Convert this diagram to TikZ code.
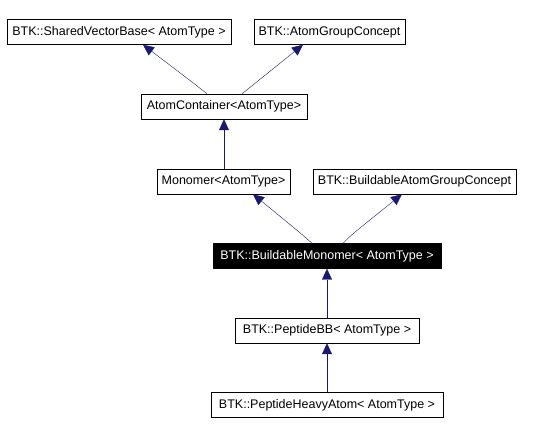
\documentclass[tikz,border=0pt]{standalone}
\usepackage{fontspec}
\setmainfont{Liberation Sans}
\usetikzlibrary{arrows.meta}
\definecolor{edgeblue}{RGB}{25,25,112}
\tikzset{
	cls/.style={draw=black,fill=white,inner sep=0pt,minimum height=25pt,font=\fontsize{12.5}{14}\selectfont},
	current/.style={cls,fill=black,text=white},
	inherit/.style={edgeblue,-{Triangle[length=11pt,width=10pt]}}
}
\begin{document}
\begin{tikzpicture}[x=1pt,y=-1pt]
		\useasboundingbox (0,0) rectangle (536,435);
		
		\node[cls,minimum width=224pt] (svb) at (119,32) {BTK::SharedVectorBase< AtomType >};
		\node[cls,minimum width=151pt] (agc) at (329.5,32) {BTK::AtomGroupConcept};
		\node[cls,minimum width=166pt] (ac) at (224,106.5) {AtomContainer<AtomType>};
		\node[cls,minimum width=133pt] (mon) at (223.5,181.5) {Monomer<AtomType>};
		\node[cls,minimum width=203pt] (bagc) at (414.5,181.5) {BTK::BuildableAtomGroupConcept};
		\node[current,minimum width=228pt] (bmon) at (327,256) {BTK::BuildableMonomer< AtomType >};
		\node[cls,minimum width=184pt] (pbb) at (327,330.5) {BTK::PeptideBB< AtomType >};
		\node[cls,minimum width=232pt] (pha) at (327,405) {BTK::PeptideHeavyAtom< AtomType >};
		
		% inheritance, tips at the base class
		\draw[inherit] ([xshift=-17pt]ac.north) .. controls ([xshift=-27pt,yshift=8pt]ac.north) .. ([xshift=24pt]svb.south);
		\draw[inherit] ([xshift=18pt]ac.north) .. controls ([xshift=28pt,yshift=8pt]ac.north) .. ([xshift=-26.5pt]agc.south);
		\draw[inherit] (ac.south |- mon.north) -- (ac.south);
		\draw[inherit] ([xshift=-15pt]bmon.north) .. controls ([xshift=-25pt,yshift=9pt]bmon.north) .. ([xshift=29.5pt]mon.south);
		\draw[inherit] ([xshift=16pt]bmon.north) .. controls ([xshift=25pt,yshift=9pt]bmon.north) .. ([xshift=-12.5pt]bagc.south);
		\draw[inherit] (pbb.north) -- (bmon.south);
		\draw[inherit] (pha.north) -- (pbb.south);
		
	\end{tikzpicture}
\end{document}
